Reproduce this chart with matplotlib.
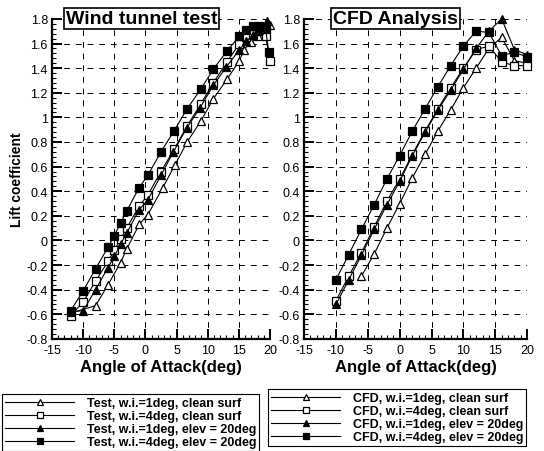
import matplotlib.pyplot as plt
from matplotlib.ticker import MultipleLocator

plt.rcParams['font.family'] = ['Liberation Sans', 'DejaVu Sans']
plt.rcParams['axes.unicode_minus'] = False

# wind tunnel test, angle of attack (deg) and lift coefficient
test_wi1_clean_x = [-12, -8, -6, -4, -3, -1, 0.4, 2.8, 4.7, 6.7, 8.9, 10.9, 13.1, 15.1, 15.8, 17, 18, 19, 20]
test_wi1_clean_y = [-0.59, -0.53, -0.36, -0.18, -0.07, 0.13, 0.21, 0.43, 0.61, 0.80, 0.97, 1.15, 1.31, 1.46,
                    1.55, 1.61, 1.66, 1.70, 1.75]
test_wi4_clean_x = [-12, -10, -8, -6, -5, -4, -3, -1, 0.4, 2.5, 4.6, 6.7, 8.9, 10.9, 13.1, 15.1, 16.2, 17.3, 18.3,
                    19.3, 20]
test_wi4_clean_y = [-0.61, -0.50, -0.33, -0.17, -0.08, 0.01, 0.10, 0.28, 0.37, 0.56, 0.74, 0.93, 1.11, 1.28, 1.45,
                    1.60, 1.65, 1.68, 1.70, 1.66, 1.46]
test_wi1_elev_x = [-12, -10, -8, -6, -5, -4, -3, -1, 0.4, 2.5, 4.5, 6.6, 8.8, 10.9, 13, 15.1, 16.2, 17.3, 18.3, 19.5]
test_wi1_elev_y = [-0.58, -0.57, -0.40, -0.22, -0.13, -0.03, 0.06, 0.25, 0.33, 0.53, 0.72, 0.91, 1.08, 1.26, 1.41,
                   1.55, 1.62, 1.67, 1.71, 1.78]
test_wi4_elev_x = [-12, -10, -8, -6, -5, -4, -3, -1, 0.4, 2.5, 4.6, 6.7, 8.9, 10.9, 13.1, 15.1, 16.2, 17.3, 18.3,
                   19.3, 19.8]
test_wi4_elev_y = [-0.57, -0.41, -0.23, -0.055, 0.04, 0.14, 0.24, 0.43, 0.53, 0.72, 0.89, 1.07, 1.23, 1.39, 1.54,
                   1.66, 1.71, 1.74, 1.74, 1.72, 1.53]

# CFD results
cfd_x = [-10, -8, -6, -4, -2, 0, 2, 4, 6, 8, 10, 12, 14, 16, 18, 20]
cfd_wi1_clean_y = [None, None, -0.29, -0.11, 0.10, 0.30, 0.51, 0.70, 0.89, 1.06, 1.24, 1.40, 1.56, 1.65, 1.46, 1.44]
cfd_wi4_clean_y = [-0.49, -0.29, -0.10, 0.11, 0.32, 0.50, 0.70, 0.89, 1.07, 1.24, 1.40, 1.55, 1.58, 1.45, 1.42, 1.42]
cfd_wi1_elev_y = [-0.52, -0.32, -0.12, 0.09, 0.29, 0.48, 0.69, 0.88, 1.06, 1.22, 1.39, 1.56, 1.70, 1.80, 1.55, 1.51]
cfd_wi4_elev_y = [-0.32, -0.115, 0.09, 0.29, 0.50, 0.69, 0.89, 1.07, 1.25, 1.42, 1.58, 1.70, 1.69, 1.50, 1.53, 1.49]

test_labels = ['Test, w.i.=1deg, clean surf', 'Test, w.i.=4deg, clean surf',
               'Test, w.i.=1deg, elev = 20deg', 'Test, w.i.=4deg, elev = 20deg']
cfd_labels = ['CFD, w.i.=1deg, clean surf', 'CFD, w.i.=4deg, clean surf',
              'CFD, w.i.=1deg, elev = 20deg', 'CFD, w.i.=4deg, elev = 20deg']

styles = [dict(marker='^', mfc='white'), dict(marker='s', mfc='white'),
          dict(marker='^', mfc='black'), dict(marker='s', mfc='black')]


def setup_axes(ax, title):
    ax.set_xlim(-15, 20)
    ax.set_ylim(-0.8, 1.8)
    ax.xaxis.set_major_locator(MultipleLocator(5))
    ax.xaxis.set_minor_locator(MultipleLocator(1))
    ax.yaxis.set_major_locator(MultipleLocator(0.2))
    ax.yaxis.set_minor_locator(MultipleLocator(0.04))
    ax.set_yticks(ax.get_yticks())
    ax.set_yticklabels(['%g' % round(v, 1) for v in ax.get_yticks()])
    ax.set_ylim(-0.8, 1.8)
    ax.tick_params(which='major', direction='in', length=7, width=1.4, labelsize=9)
    ax.tick_params(axis='x', which='major', pad=4)
    ax.tick_params(axis='y', which='major', pad=3)
    ax.tick_params(which='minor', direction='in', length=3, width=0.8)
    ax.spines['top'].set_visible(False)
    ax.spines['right'].set_visible(False)
    ax.spines['left'].set_linewidth(1.6)
    ax.spines['bottom'].set_linewidth(1.6)
    ax.grid(True, which='major', color='black', linestyle=(0, (6, 6)), linewidth=0.7)
    ax.set_xlabel('Angle of Attack(deg)', fontsize=12, fontweight='bold', labelpad=2)
    ax.text(0.41, 1.0, title, transform=ax.transAxes, ha='center', va='center',
            fontsize=14, fontweight='bold', zorder=10,
            bbox=dict(boxstyle='square,pad=0.1', fc='white', ec='black', lw=1.2))


def draw_series(ax, xs, ys, labels):
    handles = []
    for x, y, lab, st in zip(xs, ys, labels, styles):
        pts = [(a, b) for a, b in zip(x, y) if b is not None]
        h, = ax.plot([p[0] for p in pts], [p[1] for p in pts], color='black', lw=0.8,
                     ms=5.5, mec='black', mew=0.9, label=lab, clip_on=False, **st)
        handles.append(h)
    return handles


fig = plt.figure(figsize=(5.44, 4.52), dpi=100)
ax1 = fig.add_axes([0.0956, 0.248, 0.4007, 0.708])
ax2 = fig.add_axes([0.559, 0.248, 0.41, 0.708])

h1 = draw_series(ax1,
                 [test_wi1_clean_x, test_wi4_clean_x, test_wi1_elev_x, test_wi4_elev_x],
                 [test_wi1_clean_y, test_wi4_clean_y, test_wi1_elev_y, test_wi4_elev_y],
                 test_labels)
h2 = draw_series(ax2, [cfd_x] * 4,
                 [cfd_wi1_clean_y, cfd_wi4_clean_y, cfd_wi1_elev_y, cfd_wi4_elev_y],
                 cfd_labels)

setup_axes(ax1, 'Wind tunnel test')
setup_axes(ax2, 'CFD Analysis')
ax1.set_ylabel('Lift coefficient', fontsize=10, fontweight='bold', labelpad=2)

leg_style = dict(loc='upper left', handlelength=5.5, handletextpad=1.0, handleheight=0.6,
                 borderaxespad=0, fancybox=False, edgecolor='black', framealpha=1,
                 prop=dict(size=9, weight='bold'), labelspacing=0.08, borderpad=0.25,
                 markerscale=0.9)
leg1 = fig.legend(handles=h1, bbox_to_anchor=(0.004, 0.126),
                  bbox_transform=fig.transFigure, **leg_style)
leg2 = fig.legend(handles=h2, bbox_to_anchor=(0.493, 0.137),
                  bbox_transform=fig.transFigure, **leg_style)
for leg in (leg1, leg2):
    leg.get_frame().set_linewidth(0.8)

fig.savefig('out.png', dpi=100)
